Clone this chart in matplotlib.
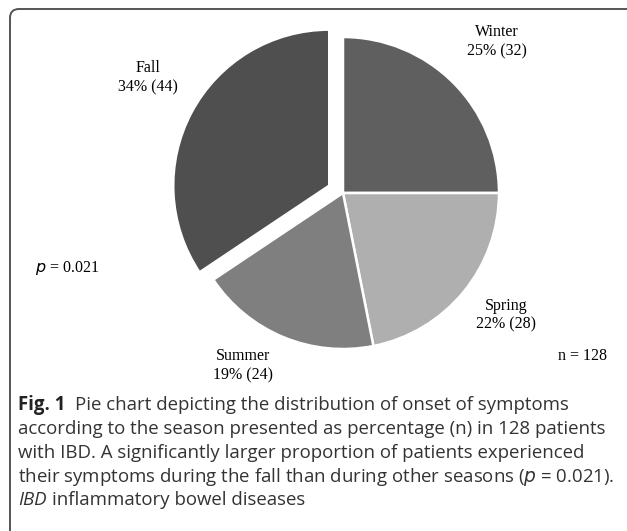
import numpy as np
import matplotlib.pyplot as plt
from matplotlib.path import Path
from matplotlib.patches import PathPatch

# season counts (n = 128)
seasons = ["Winter", "Spring", "Summer", "Fall"]
counts = [32, 28, 24, 44]
pcts = [25, 22, 19, 34]
colors = ["#5f5f5f", "#afafaf", "#7f7f7f", "#4f4f4f"]
explode_frac = [0, 0, 0, 0.1]

W, H = 627, 531
fig = plt.figure(figsize=(W / 100, H / 100), dpi=100)
ax = fig.add_axes([0, 0, 1, 1])

# pie, center at (343, 193) image px; explode in matplotlib is absolute
R = 156
ax.pie(counts, startangle=90, counterclock=False,
       explode=[e * R for e in explode_frac],
       colors=colors, center=(343, H - 193), radius=R,
       wedgeprops=dict(edgecolor="white", linewidth=1.8), frame=True)
ax.set_xlim(0, W)
ax.set_ylim(0, H)
ax.set_aspect("equal")
ax.axis("off")

# labels (serif)
serif = "Liberation Serif"
lab_pos = {"Winter": (497, 42), "Spring": (506, 315), "Summer": (243, 366), "Fall": (148, 78)}
for s, n, p in zip(seasons, counts, pcts):
    x, y = lab_pos[s]
    ax.text(x, H - y, f"{s}\n{p}% ({n})", ha="center", va="center",
            family=serif, fontsize=11.5, linespacing=1.25)

ax.text(35, H - 268, r"$p$ = 0.021", ha="left", va="center", family=serif, fontsize=11.5)
ax.text(558, H - 356, "n = 128", ha="left", va="center", family=serif, fontsize=11.5)

# frame: left line + top line with rounded corner
r = 9
verts = [(10, -5), (10, H - 9 - r), (10, H - 9), (10 + r, H - 9), (W + 2, H - 9)]
codes = [Path.MOVETO, Path.LINETO, Path.CURVE3, Path.CURVE3, Path.LINETO]
ax.add_patch(PathPatch(Path(verts, codes), fill=False, edgecolor="#555555", lw=1.4))

# caption
sans = "Open Sans"
cap_fs = 13.4
col = "#333333"
ax.text(18, H - 405, "Fig. 1", ha="left", va="center", family=sans,
        fontsize=cap_fs, fontweight="bold", color="#222222")
ax.text(75, H - 405, "Pie chart depicting the distribution of onset of symptoms",
        ha="left", va="center", family=sans, fontsize=cap_fs, color=col)
ax.text(18, H - 429, "according to the season presented as percentage (n) in 128 patients",
        ha="left", va="center", family=sans, fontsize=cap_fs, color=col)
ax.text(18, H - 453, "with IBD. A significantly larger proportion of patients experienced",
        ha="left", va="center", family=sans, fontsize=cap_fs, color=col)
ax.text(18, H - 477, r"their symptoms during the fall than during other seasons ($p$ = 0.021).",
        ha="left", va="center", family=sans, fontsize=cap_fs, color=col)
ax.text(18, H - 500, "IBD", ha="left", va="center", family=sans, fontsize=cap_fs,
        style="italic", color=col)
ax.text(52, H - 500, "inflammatory bowel diseases", ha="left", va="center",
        family=sans, fontsize=cap_fs, color=col)

fig.savefig("out.png", dpi=100)
